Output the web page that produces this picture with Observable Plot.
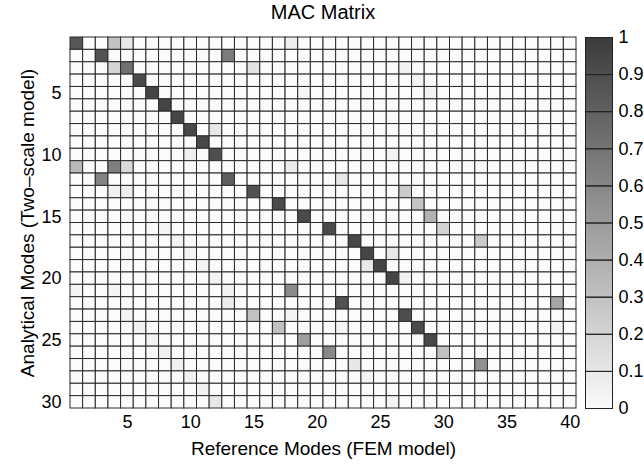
<!DOCTYPE html>
<html>
<head>
<meta charset="utf-8">
<script src="https://cdn.jsdelivr.net/npm/d3@7"></script>
<script src="https://cdn.jsdelivr.net/npm/@observablehq/plot@0.6"></script>
<style>
  html, body { margin: 0; padding: 0; background: #fff; }
  #wrap { position: relative; width: 644px; height: 464px; font-family: "Liberation Sans", Arial, sans-serif; }
  #title { position: absolute; left: 70px; width: 506px; top: 1px; text-align: center; font-size: 20px; line-height: 22px; color: #000; }
</style>
</head>
<body>
<div id="wrap">
  <div id="title">MAC Matrix</div>
</div>
<script>
// Categories
const refModes = [1,2,3,4,5,6,7,8,9,10,11,12,13,14,15,16,17,18,19,20,21,22,23,24,25,26,27,28,29,30,31,32,33,34,35,36,37,38,39,40];
const anaModes = [1,2,3,4,5,6,7,8,9,10,11,12,13,14,15,16,17,18,19,20,21,22,23,24,25,26,27,28,29,30];
const xTickLabels = [5,10,15,20,25,30,35,40];
const yTickLabels = [5,10,15,20,25,30];
const cbTicks = [0,0.1,0.2,0.3,0.4,0.5,0.6,0.7,0.8,0.9,1];

// Non-zero MAC entries (all other cells are 0)
const macRow = [1,1,1,1, 2,2, 3,3,3,3, 4,4, 5,5,5, 6, 7, 8,8, 9, 10,10,10,
  11,11,11,11, 12,12,12, 13,13,13,13, 14,14, 15,15, 16,16,16, 17,17,17, 18,18,18, 19,19,19, 20,20,20,
  21,21,21,21, 22,22,22, 23,23,23,23, 24,24,24,24,24, 25,25,25, 26,26,26, 27,27,27, 28,28, 29, 30,30];
const macCol = [1,4,5,18, 3,13, 4,5,15,27, 6,28, 7,19,29, 8, 9, 10,12, 11, 12,10,26,
  1,4,5,18, 3,13,22, 4,5,15,27, 17,28, 19,29, 21,30,8, 23,33,9, 24,26,10, 25,24,11, 26,27,12,
  18,1,4,13, 22,39,13, 27,15,5,18, 28,17,6,22,39, 29,19,7, 21,30,8, 33,23,9, 24,10, 11, 12,26];
const macVal = [0.86,0.30,0.10,0.07, 0.88,0.66, 0.20,0.72,0.12,0.04, 0.92,0.04, 0.95,0.03,0.04, 0.95, 0.95, 0.93,0.10, 0.93, 0.90,0.06,0.04,
  0.35,0.65,0.18,0.08, 0.62,0.82,0.10, 0.05,0.06,0.88,0.25, 0.92,0.28, 0.92,0.38, 0.92,0.20,0.03, 0.93,0.25,0.04, 0.95,0.10,0.04, 0.95,0.10,0.04, 0.95,0.05,0.04,
  0.58,0.03,0.03,0.04, 0.88,0.45,0.08, 0.90,0.30,0.04,0.03, 0.92,0.30,0.05,0.03,0.04, 0.93,0.48,0.04, 0.60,0.30,0.05, 0.55,0.10,0.05, 0.04,0.05, 0.05, 0.10,0.04];

// Build full matrix table
const lookup = new Map();
macRow.forEach((r, i) => lookup.set(r + "," + macCol[i], macVal[i]));
const table = [];
for (const r of anaModes) for (const c of refModes) table.push({ref: c, ana: r, mac: lookup.get(r + "," + c) ?? 0});

const colorScale = {type: "linear", domain: [0, 1], range: ["#fbfbfb", "#3b3b3b"]};
const W = 644, H = 464;
const mL = 70, mR = 68, mT = 37, mB = 56;
const font = {fontFamily: "Liberation Sans, Arial, sans-serif", fontSize: "18px", background: "transparent", color: "#000"};

const main = Plot.plot({
  width: W, height: H,
  marginLeft: mL, marginRight: mR, marginTop: mT, marginBottom: mB,
  style: font,
  x: {type: "band", domain: refModes, padding: 0, round: false},
  y: {type: "band", domain: anaModes, padding: 0, round: false},
  color: colorScale,
  marks: [
    Plot.cell(table, {x: "ref", y: "ana", fill: "mac", stroke: "#2a2a2a", strokeWidth: 1, inset: 0}),
    Plot.axisX({ticks: xTickLabels, tickSize: 0, tickPadding: 7, label: null, fontSize: 18}),
    Plot.axisY({ticks: yTickLabels, tickSize: 0, tickPadding: 9, label: null, fontSize: 18}),
    Plot.axisX({ticks: [], tickSize: 0, label: "Reference Modes (FEM model)", labelAnchor: "center", labelOffset: 46, labelArrow: "none", fontSize: 19}),
    Plot.axisY({ticks: [], tickSize: 0, label: "Analytical Modes (Two\u2013scale model)", labelAnchor: "center", labelOffset: 50, labelArrow: "none", fontSize: 19})
  ]
});
main.style.position = "absolute"; main.style.left = "0px"; main.style.top = "0px";
document.getElementById("wrap").appendChild(main);

const cbL = 585, cbR = 612;
const cb = Plot.plot({
  width: W, height: H,
  marginLeft: cbL, marginRight: W - cbR, marginTop: mT, marginBottom: mB,
  style: font,
  x: {domain: [0, 1], axis: null},
  y: {domain: [0, 1]},
  color: colorScale,
  marks: [
    Plot.raster({fill: (x, y) => y, x1: 0, x2: 1, y1: 0, y2: 1, pixelSize: 1}),
    Plot.frame({stroke: "#222", strokeWidth: 1}),
    Plot.tickY(cbTicks, {y: d => d, x1: 1, x2: 0.85, stroke: "#222", strokeWidth: 1}),
    Plot.tickY(cbTicks, {y: d => d, x1: 0, x2: 0.15, stroke: "#222", strokeWidth: 1}),
    Plot.axisY({anchor: "right", ticks: cbTicks, tickSize: 0, tickPadding: 6, tickFormat: d => String(+d.toFixed(1)), label: null, fontSize: 18})
  ]
});
cb.style.position = "absolute"; cb.style.left = "0px"; cb.style.top = "0px";
document.getElementById("wrap").appendChild(cb);
</script>
</body>
</html>
